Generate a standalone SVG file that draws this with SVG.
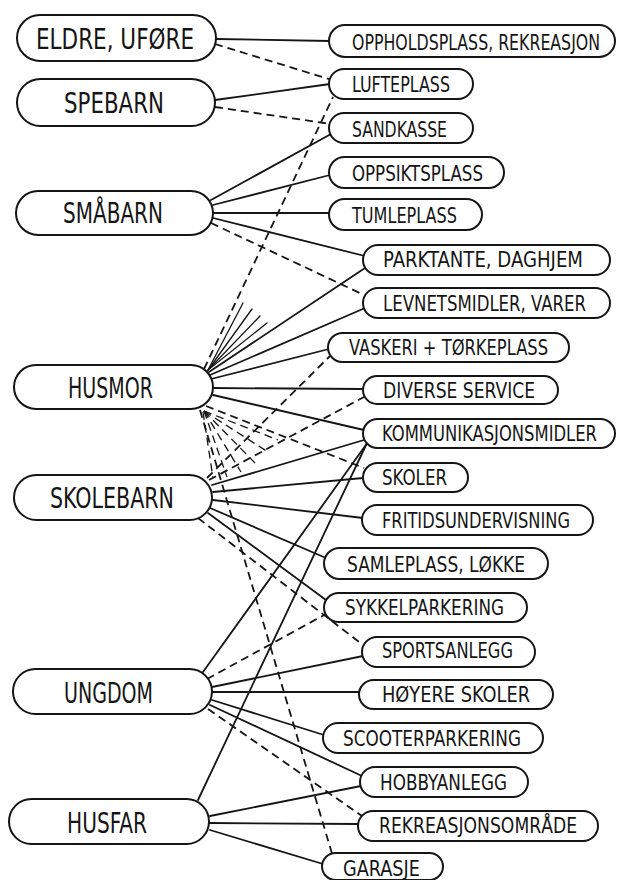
<svg xmlns="http://www.w3.org/2000/svg" width="618" height="880" viewBox="0 0 618 880">
<style>
.bg{fill:#fff}
.node rect{fill:#fff;stroke:#151515;stroke-width:2}
.node text{font-family:"DejaVu Sans Condensed","DejaVu Sans",sans-serif;fill:#151515}
.big{font-size:29px}
.sm{font-size:21px}
#connectors line{stroke:#151515;stroke-width:1.8;fill:none;stroke-linecap:round}
#connectors .d{stroke-dasharray:8 5;stroke-linecap:butt}
#connectors .f{stroke-width:1.3}
</style>
<rect class="bg" x="0" y="0" width="618" height="880"/>
<g id="connectors">
<!-- ELDRE -->
<line x1="216" y1="39" x2="330" y2="41"/>
<line class="d" x1="215" y1="44" x2="332" y2="80"/>
<!-- SPEBARN -->
<line x1="215" y1="100" x2="330" y2="84"/>
<line class="d" x1="215" y1="107" x2="331" y2="124"/>
<!-- SMÅBARN -->
<line x1="211" y1="200" x2="331" y2="134"/>
<line x1="213" y1="205" x2="330" y2="175"/>
<line x1="213" y1="213" x2="329" y2="213"/>
<line x1="213" y1="218" x2="365" y2="256"/>
<line class="d" x1="211" y1="223" x2="364" y2="295"/>
<!-- HUSMOR top -->
<line class="d" x1="204" y1="369" x2="333" y2="97"/>
<line class="f" x1="208" y1="370" x2="243" y2="303"/>
<line class="f" x1="208" y1="370" x2="252" y2="309"/>
<line class="f" x1="208" y1="370" x2="260" y2="316"/>
<line class="f" x1="208" y1="370" x2="267" y2="323"/>
<line x1="209" y1="372" x2="365" y2="268"/>
<line x1="210" y1="375" x2="365" y2="308"/>
<line x1="211" y1="379" x2="329" y2="349"/>
<line x1="213" y1="388" x2="363" y2="389"/>
<line x1="213" y1="395" x2="364" y2="430"/>
<!-- HUSMOR bottom -->
<line class="d" x1="206" y1="406" x2="364" y2="468"/>
<line class="d" x1="200" y1="410" x2="333" y2="857"/>
<line class="d f" x1="204" y1="411" x2="278" y2="440"/>
<line class="d f" x1="204" y1="411" x2="268" y2="452"/>
<line class="d f" x1="204" y1="411" x2="255" y2="463"/>
<line class="d f" x1="204" y1="411" x2="241" y2="472"/>
<line class="d f" x1="204" y1="411" x2="227" y2="477"/>
<line class="d f" x1="203" y1="412" x2="213" y2="478"/>
<!-- SKOLEBARN -->
<line class="d" x1="207" y1="478" x2="330" y2="356"/>
<line class="d" x1="209" y1="480" x2="364" y2="397"/>
<line x1="212" y1="485" x2="364" y2="440"/>
<line x1="213" y1="492" x2="363" y2="478"/>
<line x1="213" y1="500" x2="363" y2="518"/>
<line x1="210" y1="508" x2="326" y2="558"/>
<line x1="208" y1="513" x2="326" y2="600"/>
<line class="d" x1="198" y1="518" x2="363" y2="645"/>
<!-- UNGDOM -->
<line x1="203" y1="672" x2="368" y2="442"/>
<line class="d" x1="207" y1="679" x2="326" y2="614"/>
<line x1="212" y1="687" x2="363" y2="656"/>
<line x1="212" y1="692" x2="359" y2="692"/>
<line x1="212" y1="700" x2="324" y2="735"/>
<line x1="210" y1="705" x2="362" y2="776"/>
<line class="d" x1="208" y1="709" x2="362" y2="816"/>
<!-- HUSFAR -->
<line x1="198" y1="800" x2="367" y2="443"/>
<line x1="210" y1="816" x2="361" y2="786"/>
<line x1="209" y1="823" x2="358" y2="824"/>
<line x1="210" y1="830" x2="323" y2="864"/>
</g>
<g id="n-eldre" class="node"><rect x="17" y="15" width="199" height="46" rx="23"/><text class="big" x="36" y="49" textLength="158" lengthAdjust="spacingAndGlyphs">ELDRE, UFØRE</text></g>
<g id="n-spebarn" class="node"><rect x="17" y="79" width="198" height="47" rx="23.5"/><text class="big" x="64" y="113" textLength="100" lengthAdjust="spacingAndGlyphs">SPEBARN</text></g>
<g id="n-smabarn" class="node"><rect x="16" y="191" width="197" height="44" rx="22"/><text class="big" x="63" y="223" textLength="100" lengthAdjust="spacingAndGlyphs">SMÅBARN</text></g>
<g id="n-husmor" class="node"><rect x="14" y="365" width="199" height="44" rx="22"/><text class="big" x="68" y="398" textLength="85" lengthAdjust="spacingAndGlyphs">HUSMOR</text></g>
<g id="n-skolebarn" class="node"><rect x="14" y="475" width="198" height="45" rx="22.5"/><text class="big" x="50" y="508" textLength="124" lengthAdjust="spacingAndGlyphs">SKOLEBARN</text></g>
<g id="n-ungdom" class="node"><rect x="13" y="669" width="199" height="45" rx="22.5"/><text class="big" x="64" y="703" textLength="89" lengthAdjust="spacingAndGlyphs">UNGDOM</text></g>
<g id="n-husfar" class="node"><rect x="9" y="799" width="200" height="45" rx="22.5"/><text class="big" x="67" y="833" textLength="80" lengthAdjust="spacingAndGlyphs">HUSFAR</text></g>

<g id="n-opphold" class="node"><rect x="329" y="25" width="286" height="32" rx="16"/><text class="sm" transform="translate(352,50) scale(0.8,1)" textLength="310" lengthAdjust="spacingAndGlyphs">OPPHOLDSPLASS, REKREASJON</text></g>
<g id="n-lufte" class="node"><rect x="329" y="69" width="144" height="30" rx="15"/><text class="sm" transform="translate(352,92) scale(0.8,1)" textLength="122.5" lengthAdjust="spacingAndGlyphs">LUFTEPLASS</text></g>
<g id="n-sandkasse" class="node"><rect x="329" y="113" width="144" height="30" rx="15"/><text class="sm" transform="translate(352,137) scale(0.8,1)" textLength="118.75" lengthAdjust="spacingAndGlyphs">SANDKASSE</text></g>
<g id="n-oppsikt" class="node"><rect x="329" y="157" width="175" height="31" rx="15.5"/><text class="sm" transform="translate(352,181) scale(0.8,1)" textLength="163.75" lengthAdjust="spacingAndGlyphs">OPPSIKTSPLASS</text></g>
<g id="n-tumle" class="node"><rect x="329" y="199" width="153" height="31" rx="15.5"/><text class="sm" transform="translate(352,223) scale(0.8,1)" textLength="131.25" lengthAdjust="spacingAndGlyphs">TUMLEPLASS</text></g>
<g id="n-parktante" class="node"><rect x="363" y="245" width="247" height="30" rx="15"/><text class="sm" transform="translate(383,267) scale(0.8,1)" textLength="250" lengthAdjust="spacingAndGlyphs">PARKTANTE, DAGHJEM</text></g>
<g id="n-levnet" class="node"><rect x="363" y="288" width="247" height="30" rx="15"/><text class="sm" transform="translate(383,311) scale(0.8,1)" textLength="253.75" lengthAdjust="spacingAndGlyphs">LEVNETSMIDLER, VARER</text></g>
<g id="n-vaskeri" class="node"><rect x="328" y="333" width="241" height="29" rx="14.5"/><text class="sm" transform="translate(349,355) scale(0.8,1)" textLength="248.75" lengthAdjust="spacingAndGlyphs">VASKERI + TØRKEPLASS</text></g>
<g id="n-diverse" class="node"><rect x="363" y="376" width="195" height="28" rx="14"/><text class="sm" transform="translate(383,398) scale(0.8,1)" textLength="190" lengthAdjust="spacingAndGlyphs">DIVERSE  SERVICE</text></g>
<g id="n-kommunikasjon" class="node"><rect x="363" y="419" width="252" height="29" rx="14.5"/><text class="sm" transform="translate(382,441) scale(0.8,1)" textLength="268.75" lengthAdjust="spacingAndGlyphs">KOMMUNIKASJONSMIDLER</text></g>
<g id="n-skoler" class="node"><rect x="363" y="463" width="105" height="29" rx="14.5"/><text class="sm" transform="translate(382,485) scale(0.8,1)" textLength="81.25" lengthAdjust="spacingAndGlyphs">SKOLER</text></g>
<g id="n-fritid" class="node"><rect x="362" y="505" width="231" height="30" rx="15"/><text class="sm" transform="translate(382,528) scale(0.8,1)" textLength="235" lengthAdjust="spacingAndGlyphs">FRITIDSUNDERVISNING</text></g>
<g id="n-samleplass" class="node"><rect x="324" y="548" width="224" height="31" rx="15.5"/><text class="sm" transform="translate(347,572) scale(0.8,1)" textLength="222.5" lengthAdjust="spacingAndGlyphs">SAMLEPLASS, LØKKE</text></g>
<g id="n-sykkel" class="node"><rect x="324" y="593" width="203" height="29" rx="14.5"/><text class="sm" transform="translate(345,615) scale(0.8,1)" textLength="198.75" lengthAdjust="spacingAndGlyphs">SYKKELPARKERING</text></g>
<g id="n-sport" class="node"><rect x="362" y="637" width="173" height="30" rx="15"/><text class="sm" transform="translate(382,658) scale(0.8,1)" textLength="163.75" lengthAdjust="spacingAndGlyphs">SPORTSANLEGG</text></g>
<g id="n-hoyere" class="node"><rect x="359" y="680" width="194" height="29" rx="14.5"/><text class="sm" transform="translate(382,702) scale(0.8,1)" textLength="185" lengthAdjust="spacingAndGlyphs">HØYERE  SKOLER</text></g>
<g id="n-scooter" class="node"><rect x="323" y="723" width="220" height="30" rx="15"/><text class="sm" transform="translate(343,746) scale(0.8,1)" textLength="222.5" lengthAdjust="spacingAndGlyphs">SCOOTERPARKERING</text></g>
<g id="n-hobby" class="node"><rect x="360" y="767" width="168" height="30" rx="15"/><text class="sm" transform="translate(380,790) scale(0.8,1)" textLength="158.75" lengthAdjust="spacingAndGlyphs">HOBBYANLEGG</text></g>
<g id="n-rekreasjon" class="node"><rect x="358" y="811" width="240" height="30" rx="15"/><text class="sm" transform="translate(379,833) scale(0.8,1)" textLength="247.5" lengthAdjust="spacingAndGlyphs">REKREASJONSOMRÅDE</text></g>
<g id="n-garasje" class="node"><rect x="322" y="853" width="121" height="27" rx="13.5"/><text class="sm" transform="translate(343,876) scale(0.8,1)" textLength="96.25" lengthAdjust="spacingAndGlyphs">GARASJE</text></g>
</svg>
